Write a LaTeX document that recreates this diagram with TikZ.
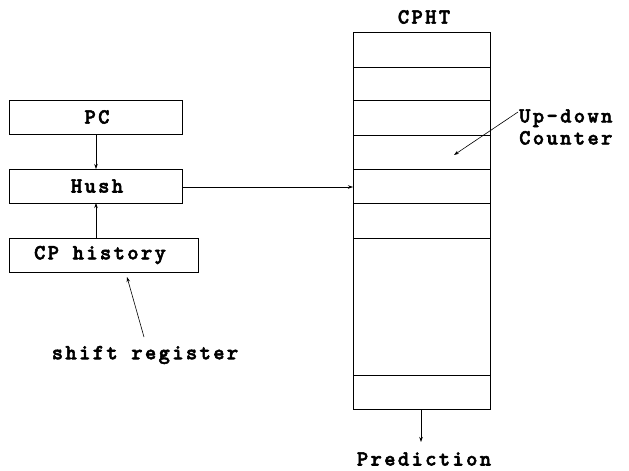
\documentclass[tikz,border=0pt]{standalone}
\usepackage{fontspec}
\newfontfamily\courb[LetterSpace=11,FakeBold=2.5]{lmmonolt10-bold.otf}
\usetikzlibrary{arrows.meta}
\tikzset{
  box/.style={draw, line width=0.9pt},
  lbl/.style={font=\courb\fontsize{21.5}{22}\selectfont, inner sep=0pt},
  conn/.style={line width=0.6pt, -{Stealth[length=5pt,width=3.5pt]}},
}
\begin{document}
\begin{tikzpicture}[x=1pt,y=-1pt]
\useasboundingbox (0,0) rectangle (629,471);

% left-hand blocks
\draw[box] (9,100) rectangle (182,134);
\node[lbl] (pc) at (97,117) {PC};
\coordinate (pcbot) at (96,134);
\draw[box] (9,169) rectangle (182,203);
\node[lbl] (hush) at (97,186) {Hush};
\coordinate (hushtop) at (96,169);
\coordinate (hushbot) at (96,203);
\coordinate (hushright) at (182,187);
\draw[box] (9,238) rectangle (198,272);
\node[lbl] (cph) at (100,255) {CP history};
\coordinate (cphtop) at (96,238);
\coordinate (cphbot) at (127,277);

\node[lbl] (sr) at (145,355) {shift register};
\coordinate (srtop) at (144,337);

% counter table
\draw[box] (353,32) rectangle (490,409);
\foreach \y in {67,100,135,169,203,238,375}
  \draw[box] (353,\y) -- (490,\y);
\node[lbl] (cpht) at (424,17) {CPHT};
\coordinate (rowin) at (353,187);
\coordinate (rowmid) at (454,155);
\coordinate (tblbot) at (421,409);

\node[lbl, anchor=west, align=left] (udc) at (519,127) {Up-down\\Counter};
\coordinate (udcstart) at (518,112);

\node[lbl] (pred) at (424,459) {Prediction};
\coordinate (predtop) at (421,442);

% connectors
\draw[conn] (pcbot) -- (hushtop);
\draw[conn] (cphtop) -- (hushbot);
\draw[conn] (hushright) -- (rowin);
\draw[conn] (srtop) -- (cphbot);
\draw[conn] (udcstart) -- (rowmid);
\draw[conn] (tblbot) -- (predtop);
\end{tikzpicture}
\end{document}
